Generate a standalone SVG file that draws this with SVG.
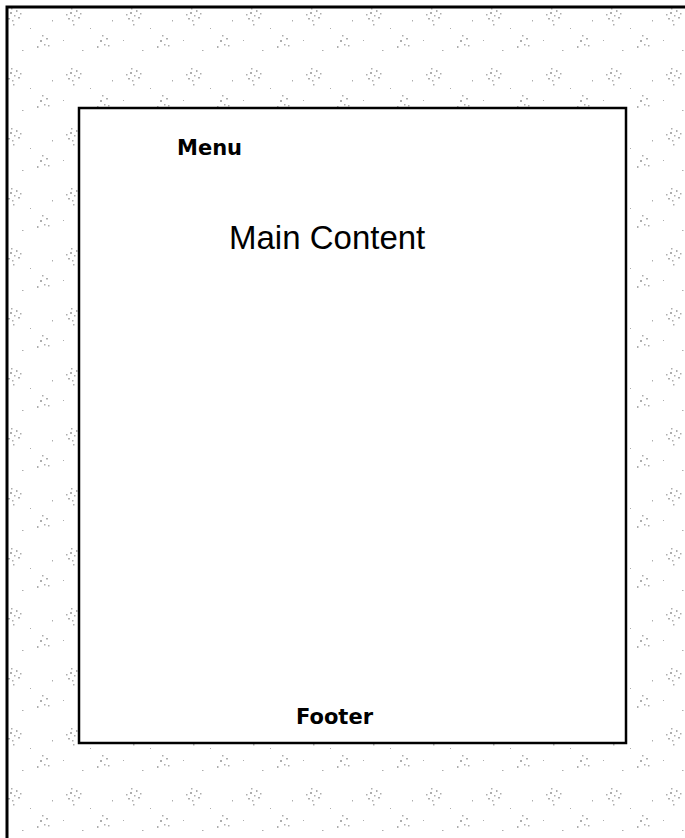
<svg xmlns="http://www.w3.org/2000/svg" width="685" height="838" viewBox="0 0 685 838">
  <style>
    .frame { fill: none; stroke: #000; stroke-width: 3; }
    .box { fill: #fff; stroke: #000; stroke-width: 2.5; }
    .small { font-family: "DejaVu Sans", Verdana, sans-serif; font-weight: bold; font-size: 21px; fill: #000; }
    .big { font-family: "Liberation Sans", Arial, sans-serif; font-size: 33px; fill: #000; }
  </style>
  <defs>
    <pattern id="speckle" width="60" height="60" patternUnits="userSpaceOnUse">
      <g fill="#8a8a8a">
        <rect x="10" y="12" width="2" height="2"/><rect x="14" y="15" width="1.5" height="1.5"/>
        <rect x="8" y="18" width="2" height="1.5"/><rect x="16" y="10" width="1.5" height="2"/>
        <rect x="12" y="20" width="1.5" height="1.5"/><rect x="18" y="17" width="2" height="1.5"/>
        <rect x="11" y="8" width="1.5" height="1.5"/><rect x="6" y="14" width="1.5" height="1.5"/>
        <rect x="13" y="24" width="1.5" height="1.5"/><rect x="20" y="13" width="1.5" height="1.5"/>
        <rect x="40" y="40" width="2" height="2"/><rect x="44" y="44" width="1.5" height="1.5"/>
        <rect x="37" y="46" width="1.5" height="2"/><rect x="46" y="38" width="2" height="1.5"/>
        <rect x="42" y="35" width="1.5" height="1.5"/><rect x="48" y="45" width="1.5" height="1.5"/>
        <rect x="30" y="28" width="1" height="1"/><rect x="52" y="20" width="1" height="1.5"/>
        <rect x="22" y="50" width="1.5" height="1"/><rect x="3" y="40" width="1" height="1"/>
      </g>
    </pattern>
  </defs>
  <rect x="0" y="0" width="685" height="838" fill="#fff"/>
  <rect x="7" y="7" width="690" height="840" fill="url(#speckle)" opacity="0.7"/>
  <g id="page">
    <path class="frame" d="M7 838 V7 H685"/>
  </g>
  <g id="main">
    <rect class="box" x="79" y="108" width="547" height="635"/>
  </g>
  <g id="menu">
    <text class="small" x="177" y="155">Menu</text>
  </g>
  <g id="content">
    <text class="big" x="229" y="249">Main Content</text>
  </g>
  <g id="footer">
    <text class="small" x="296" y="724">Footer</text>
  </g>
  <g id="connectors"></g>
</svg>
